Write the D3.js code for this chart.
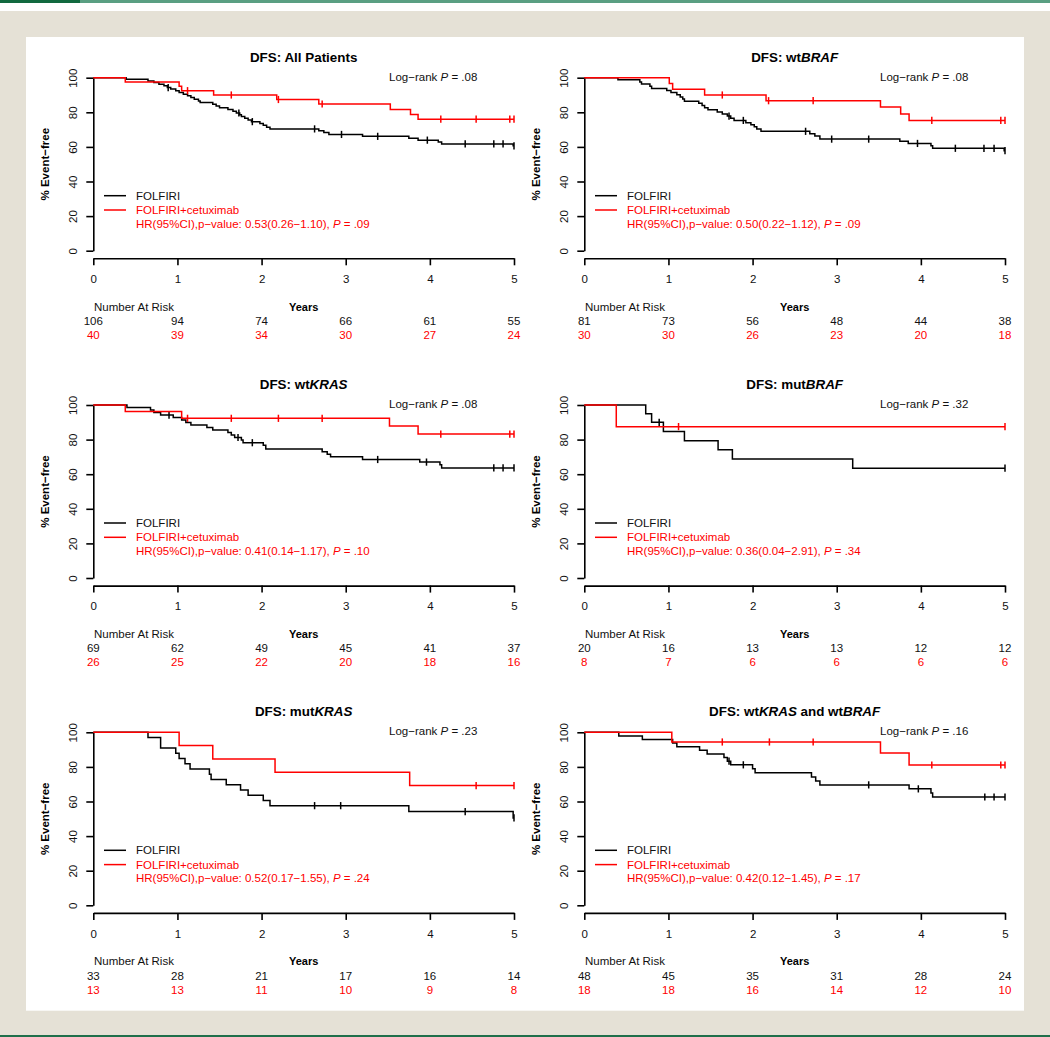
<!DOCTYPE html>
<html>
<head>
<meta charset="utf-8">
<script src="https://cdn.jsdelivr.net/npm/d3@7"></script>
<style>
  html, body { margin: 0; padding: 0; background: #e5e1d6; }
  svg { display: block; }
  text { font-family: "Liberation Sans", Arial, Helvetica, sans-serif; }
</style>
</head>
<body>
<svg id="chart" width="1050" height="1037"></svg>
<script>
// ---------------- DATA ----------------
const years = [0, 1, 2, 3, 4, 5];
const yTicks = [0, 20, 40, 60, 80, 100];
const seriesNames = ["FOLFIRI", "FOLFIRI+cetuximab"];

const titles = [
  [["DFS: All Patients", false]],
  [["DFS: wt", false], ["BRAF", true]],
  [["DFS: wt", false], ["KRAS", true]],
  [["DFS: mut", false], ["BRAF", true]],
  [["DFS: mut", false], ["KRAS", true]],
  [["DFS: wt", false], ["KRAS", true], [" and wt", false], ["BRAF", true]]
];
const logRankP = [".08", ".08", ".08", ".32", ".23", ".16"];
const hrText = ["0.53(0.26−1.10)", "0.50(0.22−1.12)", "0.41(0.14−1.17)", "0.36(0.04−2.91)", "0.52(0.17−1.55)", "0.42(0.12−1.45)"];
const hrP = [".09", ".09", ".10", ".34", ".24", ".17"];

// Kaplan-Meier steps [years, % event-free]
const p1Black = [[0,100],[0.39,99.1],[0.65,98.1],[0.72,97.2],[0.78,96.2],[0.84,95.3],[0.88,94.3],[0.92,93.4],[0.98,92.4],[1.02,91.5],[1.07,90.5],[1.12,89.5],[1.16,88.6],[1.20,87.6],[1.25,86.6],[1.27,85.6],[1.42,84.6],[1.46,83.6],[1.50,82.6],[1.60,81.6],[1.66,80.6],[1.70,79.6],[1.74,78.6],[1.76,77.6],[1.80,76.6],[1.84,75.6],[1.88,74.6],[1.98,73.5],[2.02,72.5],[2.06,71.4],[2.10,70.4],[2.68,69.3],[2.74,68.3],[2.80,67.2],[3.20,66.1],[3.75,65.0],[3.86,63.9],[4.10,62.8],[4.14,61.7],[4.99,60.6]];
const p1Red = [[0,100],[0.38,97.5],[1.02,95.0],[1.05,92.5],[1.43,90.0],[2.18,87.4],[2.68,84.8],[3.53,81.6],[3.77,78.8],[3.86,76.0]];
const p1BlackCens = [0.89, 1.73, 1.89, 2.63, 2.95, 3.38, 3.97, 4.42, 4.76, 4.87, 5.0];
const p1RedCens = [1.12, 1.64, 2.20, 2.72, 4.13, 4.55, 4.95, 5.0];

const p2Black = [[0,100],[0.40,98.8],[0.66,97.5],[0.68,96.3],[0.78,95.1],[0.80,93.8],[0.98,92.6],[1.03,91.4],[1.10,90.1],[1.14,88.9],[1.17,87.7],[1.19,86.4],[1.36,85.2],[1.40,84.0],[1.43,82.7],[1.47,81.5],[1.58,80.2],[1.64,79.0],[1.70,77.8],[1.74,76.5],[1.78,75.3],[1.92,74.0],[1.98,72.8],[2.02,71.6],[2.05,70.3],[2.10,69.0],[2.68,67.6],[2.74,66.3],[2.80,64.5],[3.75,63.3],[3.85,62.0],[4.12,60.6],[4.14,59.2],[4.99,57.8]];
const p2Red = [[0,100],[1.01,96.7],[1.05,93.3],[1.43,90.0],[2.16,86.7],[3.52,83.0],[3.76,79.0],[3.86,75.3]];
const p2BlackCens = [1.72, 1.89, 2.63, 2.94, 3.38, 3.96, 4.41, 4.75, 4.87, 5.0];
const p2RedCens = [1.64, 2.19, 2.72, 4.13, 4.95, 5.0];

const p3Black = [[0,100],[0.40,98.6],[0.68,97.1],[0.72,95.7],[0.80,94.2],[0.95,92.8],[1.05,91.3],[1.10,89.9],[1.16,88.4],[1.35,87.0],[1.42,85.5],[1.60,84.1],[1.64,82.6],[1.68,81.2],[1.76,79.7],[1.78,78.2],[2.02,76.8],[2.05,74.5],[2.72,73.0],[2.78,71.6],[2.82,70.1],[3.20,68.5],[3.88,67.0],[4.12,65.4],[4.14,63.6]];
const p3Red = [[0,100],[0.38,96.2],[1.05,92.3],[3.52,87.8],[3.86,83.2]];
const p3BlackCens = [0.90, 1.72, 1.89, 3.38, 3.96, 4.76, 4.87, 5.0];
const p3RedCens = [1.12, 1.64, 2.20, 2.72, 4.13, 4.95, 5.0];

const p4Black = [[0,100],[0.73,95.0],[0.80,90.0],[0.94,84.7],[1.19,79.4],[1.59,74.1],[1.76,68.8],[3.19,63.5]];
const p4Red = [[0,100],[0.38,87.5]];
const p4BlackCens = [0.89, 5.0];
const p4RedCens = [1.12, 5.0];

const p5Black = [[0,100],[0.65,97.0],[0.80,90.9],[0.98,87.9],[1.02,84.8],[1.09,81.8],[1.15,78.8],[1.38,75.8],[1.40,72.7],[1.58,69.7],[1.75,66.7],[1.84,63.6],[2.02,60.6],[2.10,57.6],[3.75,54.2],[4.99,50.5]];
const p5Red = [[0,100],[1.02,92.3],[1.42,84.6],[2.16,76.9],[3.76,69.2]];
const p5BlackCens = [2.63, 2.94, 4.42, 5.0];
const p5RedCens = [4.55, 5.0];

const p6Black = [[0,100],[0.41,97.9],[0.69,95.8],[1.05,93.8],[1.10,91.7],[1.37,89.6],[1.46,87.5],[1.66,85.4],[1.70,83.3],[1.74,81.2],[2.00,79.0],[2.03,76.6],[2.70,74.2],[2.75,71.9],[2.80,69.6],[3.86,67.3],[4.12,64.9],[4.14,62.6]];
const p6Red = [[0,100],[1.04,94.4],[3.52,88.0],[3.86,81.1]];
const p6BlackCens = [1.72, 1.89, 3.38, 3.97, 4.76, 4.87, 5.0];
const p6RedCens = [1.64, 2.20, 2.72, 4.13, 4.95, 5.0];

// Number at risk at years 0..5
const riskBlack = [[106,94,74,66,61,55],[81,73,56,48,44,38],[69,62,49,45,41,37],[20,16,13,13,12,12],[33,28,21,17,16,14],[48,45,35,31,28,24]];
const riskRed = [[40,39,34,30,27,24],[30,30,26,23,20,18],[26,25,22,20,18,16],[8,7,6,6,6,6],[13,13,11,10,9,8],[18,18,16,14,12,10]];

const blackCurves = [p1Black, p2Black, p3Black, p4Black, p5Black, p6Black];
const redCurves = [p1Red, p2Red, p3Red, p4Red, p5Red, p6Red];
const blackCens = [p1BlackCens, p2BlackCens, p3BlackCens, p4BlackCens, p5BlackCens, p6BlackCens];
const redCens = [p1RedCens, p2RedCens, p3RedCens, p4RedCens, p5RedCens, p6RedCens];

// ---------------- LAYOUT ----------------
const svg = d3.select("#chart");
const RED = "#ff0000", BLACK = "#000000";
const FS = 11.5;
const colX = [93.3, 584.3];
const rowY = [77.7, 405, 732.3];
const PW = 420.7, PH = 173;

// frame
svg.append("rect").attr("x",0).attr("y",0).attr("width",1050).attr("height",1037).attr("fill","#e5e1d6");
svg.append("rect").attr("x",0).attr("y",3).attr("width",1050).attr("height",8).attr("fill","#ffffff");
svg.append("rect").attr("x",0).attr("y",0).attr("width",1050).attr("height",3).attr("fill","#5a9f82");
svg.append("rect").attr("x",0).attr("y",0).attr("width",80).attr("height",3).attr("fill","#12693f");
svg.append("rect").attr("x",26).attr("y",37).attr("width",998).attr("height",973.7).attr("fill","#ffffff");
svg.append("rect").attr("x",0).attr("y",1035).attr("width",1050).attr("height",2).attr("fill","#1f6f4a");

function stepValue(curve, t) {
  let v = curve[0][1];
  for (const d of curve) if (d[0] <= t) v = d[1];
  return v;
}

titles.forEach((title, i) => {
  const ax = colX[i % 2], top = rowY[Math.floor(i / 2)];
  const g = svg.append("g");
  const x = d3.scaleLinear().domain([0, 5]).range([ax, ax + PW]);
  const y = d3.scaleLinear().domain([0, 100]).range([top + PH, top]);
  const axisY = top + 180.6;

  // title
  const tt = g.append("text").attr("x", ax + PW / 2).attr("y", top - 21)
    .attr("text-anchor", "middle").attr("dominant-baseline", "central")
    .attr("font-size", 13.4).attr("font-weight", "bold");
  title.forEach(([s, it]) => tt.append("tspan").attr("font-style", it ? "italic" : "normal").text(s));

  // y axis
  const gy = g.append("g").attr("transform", `translate(${ax},0)`)
    .call(d3.axisLeft(y).tickValues(yTicks).tickSize(7).tickSizeOuter(0).tickFormat(d3.format("d")));
  gy.select(".domain").attr("stroke-width", 1.6);
  gy.selectAll(".tick line").attr("stroke-width", 1.6);
  gy.selectAll(".tick text")
    .attr("x", null).attr("dy", null)
    .attr("text-anchor", "middle").attr("dominant-baseline", "central")
    .attr("transform", "translate(-20.6,0) rotate(-90)")
    .attr("font-size", FS).attr("font-family", "Liberation Sans, Arial, sans-serif").attr("fill", "#111");

  // x axis
  const gx = g.append("g").attr("transform", `translate(0,${axisY})`)
    .call(d3.axisBottom(x).tickValues(years).tickSize(7).tickSizeOuter(0).tickPadding(9.7).tickFormat(d3.format("d")));
  gx.select(".domain").attr("stroke-width", 1.6);
  gx.selectAll(".tick line").attr("stroke-width", 1.6);
  gx.selectAll(".tick text").attr("font-size", FS).attr("font-family", "Liberation Sans, Arial, sans-serif").attr("fill", "#111");

  // y label
  g.append("text").attr("transform", `translate(${ax - 48},${top + PH / 2}) rotate(-90)`)
    .attr("text-anchor", "middle").attr("dominant-baseline", "central")
    .attr("font-size", FS).attr("font-weight", "bold").text("% Event−free");

  // curves
  const line = d3.line().x(d => x(d[0])).y(d => y(d[1])).curve(d3.curveStepAfter);
  [[blackCurves[i], blackCens[i], BLACK], [redCurves[i], redCens[i], RED]].forEach(([curve, cens, col]) => {
    const pts = curve.concat([[5, curve[curve.length - 1][1]]]);
    g.append("path").attr("d", line(pts)).attr("fill", "none").attr("stroke", col).attr("stroke-width", 1.5);
    g.selectAll(null).data(cens).enter().append("line")
      .attr("x1", d => x(d)).attr("x2", d => x(d))
      .attr("y1", d => y(stepValue(curve, d)) - 3.6).attr("y2", d => y(stepValue(curve, d)) + 3.6)
      .attr("stroke", col).attr("stroke-width", 1.5);
  });

  // log-rank
  const lr = g.append("text").attr("x", ax + 384).attr("y", top - 1)
    .attr("text-anchor", "end").attr("dominant-baseline", "central").attr("font-size", FS).attr("fill", "#111");
  lr.append("tspan").text("Log−rank ");
  lr.append("tspan").attr("font-style", "italic").text("P");
  lr.append("tspan").text(" = " + logRankP[i]);

  // legend
  const lx1 = ax + 10.7, lx2 = ax + 32.7, tx = ax + 42.7;
  g.append("line").attr("x1", lx1).attr("x2", lx2).attr("y1", top + 118).attr("y2", top + 118).attr("stroke", BLACK).attr("stroke-width", 1.5);
  g.append("text").attr("x", tx).attr("y", top + 118).attr("dominant-baseline", "central").attr("font-size", FS).attr("fill", "#111").text(seriesNames[0]);
  g.append("line").attr("x1", lx1).attr("x2", lx2).attr("y1", top + 132.3).attr("y2", top + 132.3).attr("stroke", RED).attr("stroke-width", 1.5);
  g.append("text").attr("x", tx).attr("y", top + 132.3).attr("dominant-baseline", "central").attr("font-size", FS).attr("fill", RED).text(seriesNames[1]);
  const hr = g.append("text").attr("x", tx).attr("y", top + 146).attr("dominant-baseline", "central").attr("font-size", FS).attr("fill", RED);
  hr.append("tspan").text("HR(95%CI),p−value: " + hrText[i] + ", ");
  hr.append("tspan").attr("font-style", "italic").text("P");
  hr.append("tspan").text(" = " + hrP[i]);

  // number at risk
  g.append("text").attr("x", ax + 0.7).attr("y", top + 229).attr("dominant-baseline", "central")
    .attr("font-size", FS).attr("fill", "#111").text("Number At Risk");
  g.append("text").attr("x", ax + PW / 2).attr("y", top + 229).attr("text-anchor", "middle").attr("dominant-baseline", "central")
    .attr("font-size", 11).attr("font-weight", "bold").text("Years");
  g.selectAll(null).data(riskBlack[i]).enter().append("text")
    .attr("x", (d, k) => x(years[k])).attr("y", top + 243.3).attr("text-anchor", "middle").attr("dominant-baseline", "central")
    .attr("font-size", FS).attr("fill", "#111").text(d => d);
  g.selectAll(null).data(riskRed[i]).enter().append("text")
    .attr("x", (d, k) => x(years[k])).attr("y", top + 257.3).attr("text-anchor", "middle").attr("dominant-baseline", "central")
    .attr("font-size", FS).attr("fill", RED).text(d => d);
});
</script>
</body>
</html>
